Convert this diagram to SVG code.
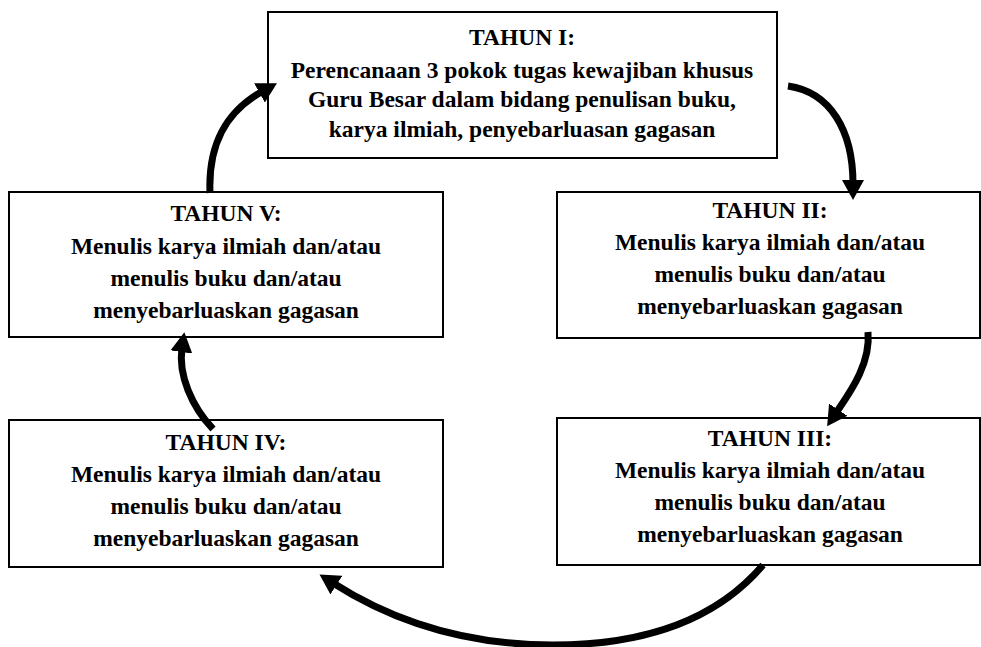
<svg xmlns="http://www.w3.org/2000/svg" width="981" height="647" viewBox="0 0 981 647">
<style>
.box{fill:#fff;stroke:#000;stroke-width:2}
.t{font-family:"Liberation Serif","Times New Roman",serif;font-weight:bold;font-size:23.5px;text-anchor:middle;fill:#000}
.arr{fill:none;stroke:#000;stroke-width:7;marker-end:url(#ah)}
</style>
<defs>
<marker id="ah" markerUnits="userSpaceOnUse" markerWidth="22" markerHeight="22" refX="4" refY="11" orient="auto" viewBox="0 0 22 22">
<path d="M0,0 L20,11 L0,22 z" fill="#000"/>
</marker>
</defs>
<rect width="981" height="647" fill="#fff"/>
<g id="node-tahun1">
<rect class="box" x="268" y="12" width="509" height="146"/>
<text class="t" x="522" y="45">TAHUN I:</text>
<text class="t" x="522" y="78">Perencanaan 3 pokok tugas kewajiban khusus</text>
<text class="t" x="522" y="107">Guru Besar dalam bidang penulisan buku,</text>
<text class="t" x="522" y="137">karya ilmiah, penyebarluasan gagasan</text>
</g>
<g id="node-tahun2">
<rect class="box" x="557" y="192" width="423" height="146"/>
<text class="t" x="770" y="218">TAHUN II:</text>
<text class="t" x="770" y="250">Menulis karya ilmiah dan/atau</text>
<text class="t" x="770" y="282">menulis buku dan/atau</text>
<text class="t" x="770" y="314">menyebarluaskan gagasan</text>
</g>
<g id="node-tahun3">
<rect class="box" x="557" y="418" width="423" height="147"/>
<text class="t" x="770" y="446">TAHUN III:</text>
<text class="t" x="770" y="478">Menulis karya ilmiah dan/atau</text>
<text class="t" x="770" y="510">menulis buku dan/atau</text>
<text class="t" x="770" y="542">menyebarluaskan gagasan</text>
</g>
<g id="node-tahun4">
<rect class="box" x="9" y="420" width="434" height="147"/>
<text class="t" x="226" y="450">TAHUN IV:</text>
<text class="t" x="226" y="482">Menulis karya ilmiah dan/atau</text>
<text class="t" x="226" y="514">menulis buku dan/atau</text>
<text class="t" x="226" y="546">menyebarluaskan gagasan</text>
</g>
<g id="node-tahun5">
<rect class="box" x="9" y="192" width="434" height="145"/>
<text class="t" x="226" y="221">TAHUN V:</text>
<text class="t" x="226" y="254">Menulis karya ilmiah dan/atau</text>
<text class="t" x="226" y="286">menulis buku dan/atau</text>
<text class="t" x="226" y="318">menyebarluaskan gagasan</text>
</g>
<g id="connectors">
<path class="arr" d="M210,193 C208,145 225,112 263,91"/>
<path class="arr" d="M788,86 C830,92 853,130 853,184"/>
<path class="arr" d="M868,332 C871,365 848,395 836,413"/>
<path class="arr" d="M763,565 Q695,645 553,645 Q430,645 333,583"/>
<path class="arr" d="M213,429 C192,407 178,375 182,348"/>
</g>
</svg>
